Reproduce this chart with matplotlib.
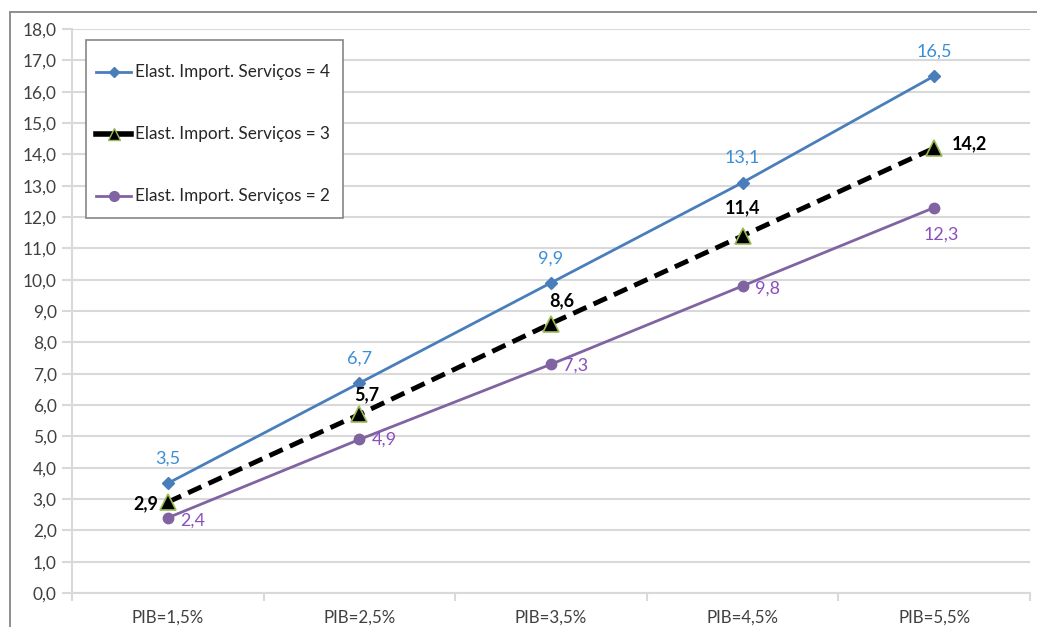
import matplotlib.pyplot as plt
from matplotlib.patches import Rectangle
from matplotlib.lines import Line2D

categories = ["PIB=1,5%", "PIB=2,5%", "PIB=3,5%", "PIB=4,5%", "PIB=5,5%"]
series_names = ["Elast. Import. Serviços = 4",
                "Elast. Import. Serviços = 3",
                "Elast. Import. Serviços = 2"]
elast4 = [3.5, 6.7, 9.9, 13.1, 16.5]
elast3 = [2.9, 5.7, 8.6, 11.4, 14.2]
elast2 = [2.4, 4.9, 7.3, 9.8, 12.3]
y_ticks = [i * 1.0 for i in range(19)]

plt.rcParams['font.family'] = ['Lato', 'DejaVu Sans']

W, H = 1037, 627
fig = plt.figure(figsize=(W / 100, H / 100), dpi=100)
fig.patch.set_facecolor('white')

# outer chart frame
fig.add_artist(Rectangle((10 / W, -0.1), 1.2, 1 - 12 / H + 0.1,
                         transform=fig.transFigure, fill=False,
                         edgecolor='#868686', linewidth=1.3))

ax = fig.add_axes([72 / W, 34 / H, (1030 - 72) / W, (593 - 29) / H])
x = list(range(len(categories)))

grid_c = '#d9d9d9'
ax.set_ylim(0, 18)
ax.set_xlim(-0.5, len(categories) - 0.5)
ax.set_yticks(y_ticks)
ax.set_yticklabels([f"{v:.1f}".replace('.', ',') for v in y_ticks])
ax.yaxis.grid(True, color=grid_c, linewidth=1.5)
ax.set_axisbelow(True)
for s in ['top', 'right']:
    ax.spines[s].set_visible(False)
for s in ['left', 'bottom']:
    ax.spines[s].set_color(grid_c)
    ax.spines[s].set_linewidth(1.5)
ax.tick_params(axis='y', length=7, width=1.5, color=grid_c, labelsize=12.5,
               labelcolor='#404040', pad=4)
ax.set_xticks(x)
ax.set_xticklabels(categories)
ax.set_xticks([i - 0.5 for i in range(len(categories) + 1)], minor=True)
ax.tick_params(axis='x', which='major', length=0, labelsize=12.2,
               labelcolor='#404040', pad=12)
ax.tick_params(axis='x', which='minor', length=6, width=1.5, color=grid_c)

blue = '#4a7ebb'
blue_lbl = '#3a8ed6'
purple = '#8064a2'
purple_lbl = '#8a4fbf'

ax.plot(x, elast4, color=blue, linewidth=2, marker='D', markersize=6,
        label=series_names[0], zorder=3)
ax.plot(x, elast3, color='black', linewidth=3.5, linestyle=(0, (3, 1.6)),
        marker='^', markersize=11, markerfacecolor='black',
        markeredgecolor='#9bbb59', markeredgewidth=1.2,
        label=series_names[1], zorder=4)
ax.plot(x, elast2, color=purple, linewidth=2, marker='o', markersize=7.5,
        label=series_names[2], zorder=3)

def fmt(v):
    return f"{v:.1f}".replace('.', ',')

LBL = 13

# value labels
for xi, v in zip(x, elast4):
    ax.annotate(fmt(v), (xi, v), xytext=(0, 12), textcoords='offset points',
                ha='center', va='bottom', color=blue_lbl, fontsize=LBL)

black_off = [(-7, -1, 'right', 'center'), (5, 8, 'center', 'bottom'),
             (8, 10, 'center', 'bottom'), (0, 14, 'center', 'bottom'),
             (13, 3, 'left', 'center')]
for xi, v, (dx, dy, ha, va) in zip(x, elast3, black_off):
    ax.annotate(fmt(v), (xi, v), xytext=(dx, dy), textcoords='offset points',
                ha=ha, va=va, color='black', fontsize=LBL, fontweight='bold')

purple_off = [(9, -2, 'left', 'center'), (9, 0, 'left', 'center'),
              (9, -1, 'left', 'center'), (9, -2, 'left', 'center'),
              (5, -14, 'center', 'top')]
for xi, v, (dx, dy, ha, va) in zip(x, elast2, purple_off):
    ax.annotate(fmt(v), (xi, v), xytext=(dx, dy), textcoords='offset points',
                ha=ha, va=va, color=purple_lbl, fontsize=LBL)

# legend box with its entries
lx0, ly0, lx1, ly1 = 86, 40, 343, 218
fig.add_artist(Rectangle((lx0 / W, 1 - ly1 / H), (lx1 - lx0) / W,
                         (ly1 - ly0) / H, transform=fig.transFigure,
                         facecolor='white', edgecolor='#868686',
                         linewidth=1.2, zorder=10))
entry_y = [72, 134, 196]
styles = [
    dict(color=blue, linewidth=2, marker='D', markersize=5),
    dict(color='black', linewidth=4, marker='^', markersize=8,
         markerfacecolor='black', markeredgecolor='#9bbb59'),
    dict(color=purple, linewidth=2, marker='o', markersize=7),
]
for name, ey, st in zip(series_names, entry_y, styles):
    yy = 1 - ey / H
    line_kw = {k: v for k, v in st.items() if not k.startswith('marker')}
    mark_kw = {k: v for k, v in st.items()
               if k.startswith('marker') or k == 'color'}
    fig.add_artist(Line2D([96 / W, 131 / W], [yy, yy],
                          transform=fig.transFigure, zorder=11, **line_kw))
    fig.add_artist(Line2D([113.5 / W], [yy], transform=fig.transFigure,
                          zorder=12, linestyle='none', **mark_kw))
    fig.text(135 / W, yy, name, ha='left', va='center', fontsize=12.3,
             color='#262626', zorder=13)

fig.savefig('out.png', dpi=100)
